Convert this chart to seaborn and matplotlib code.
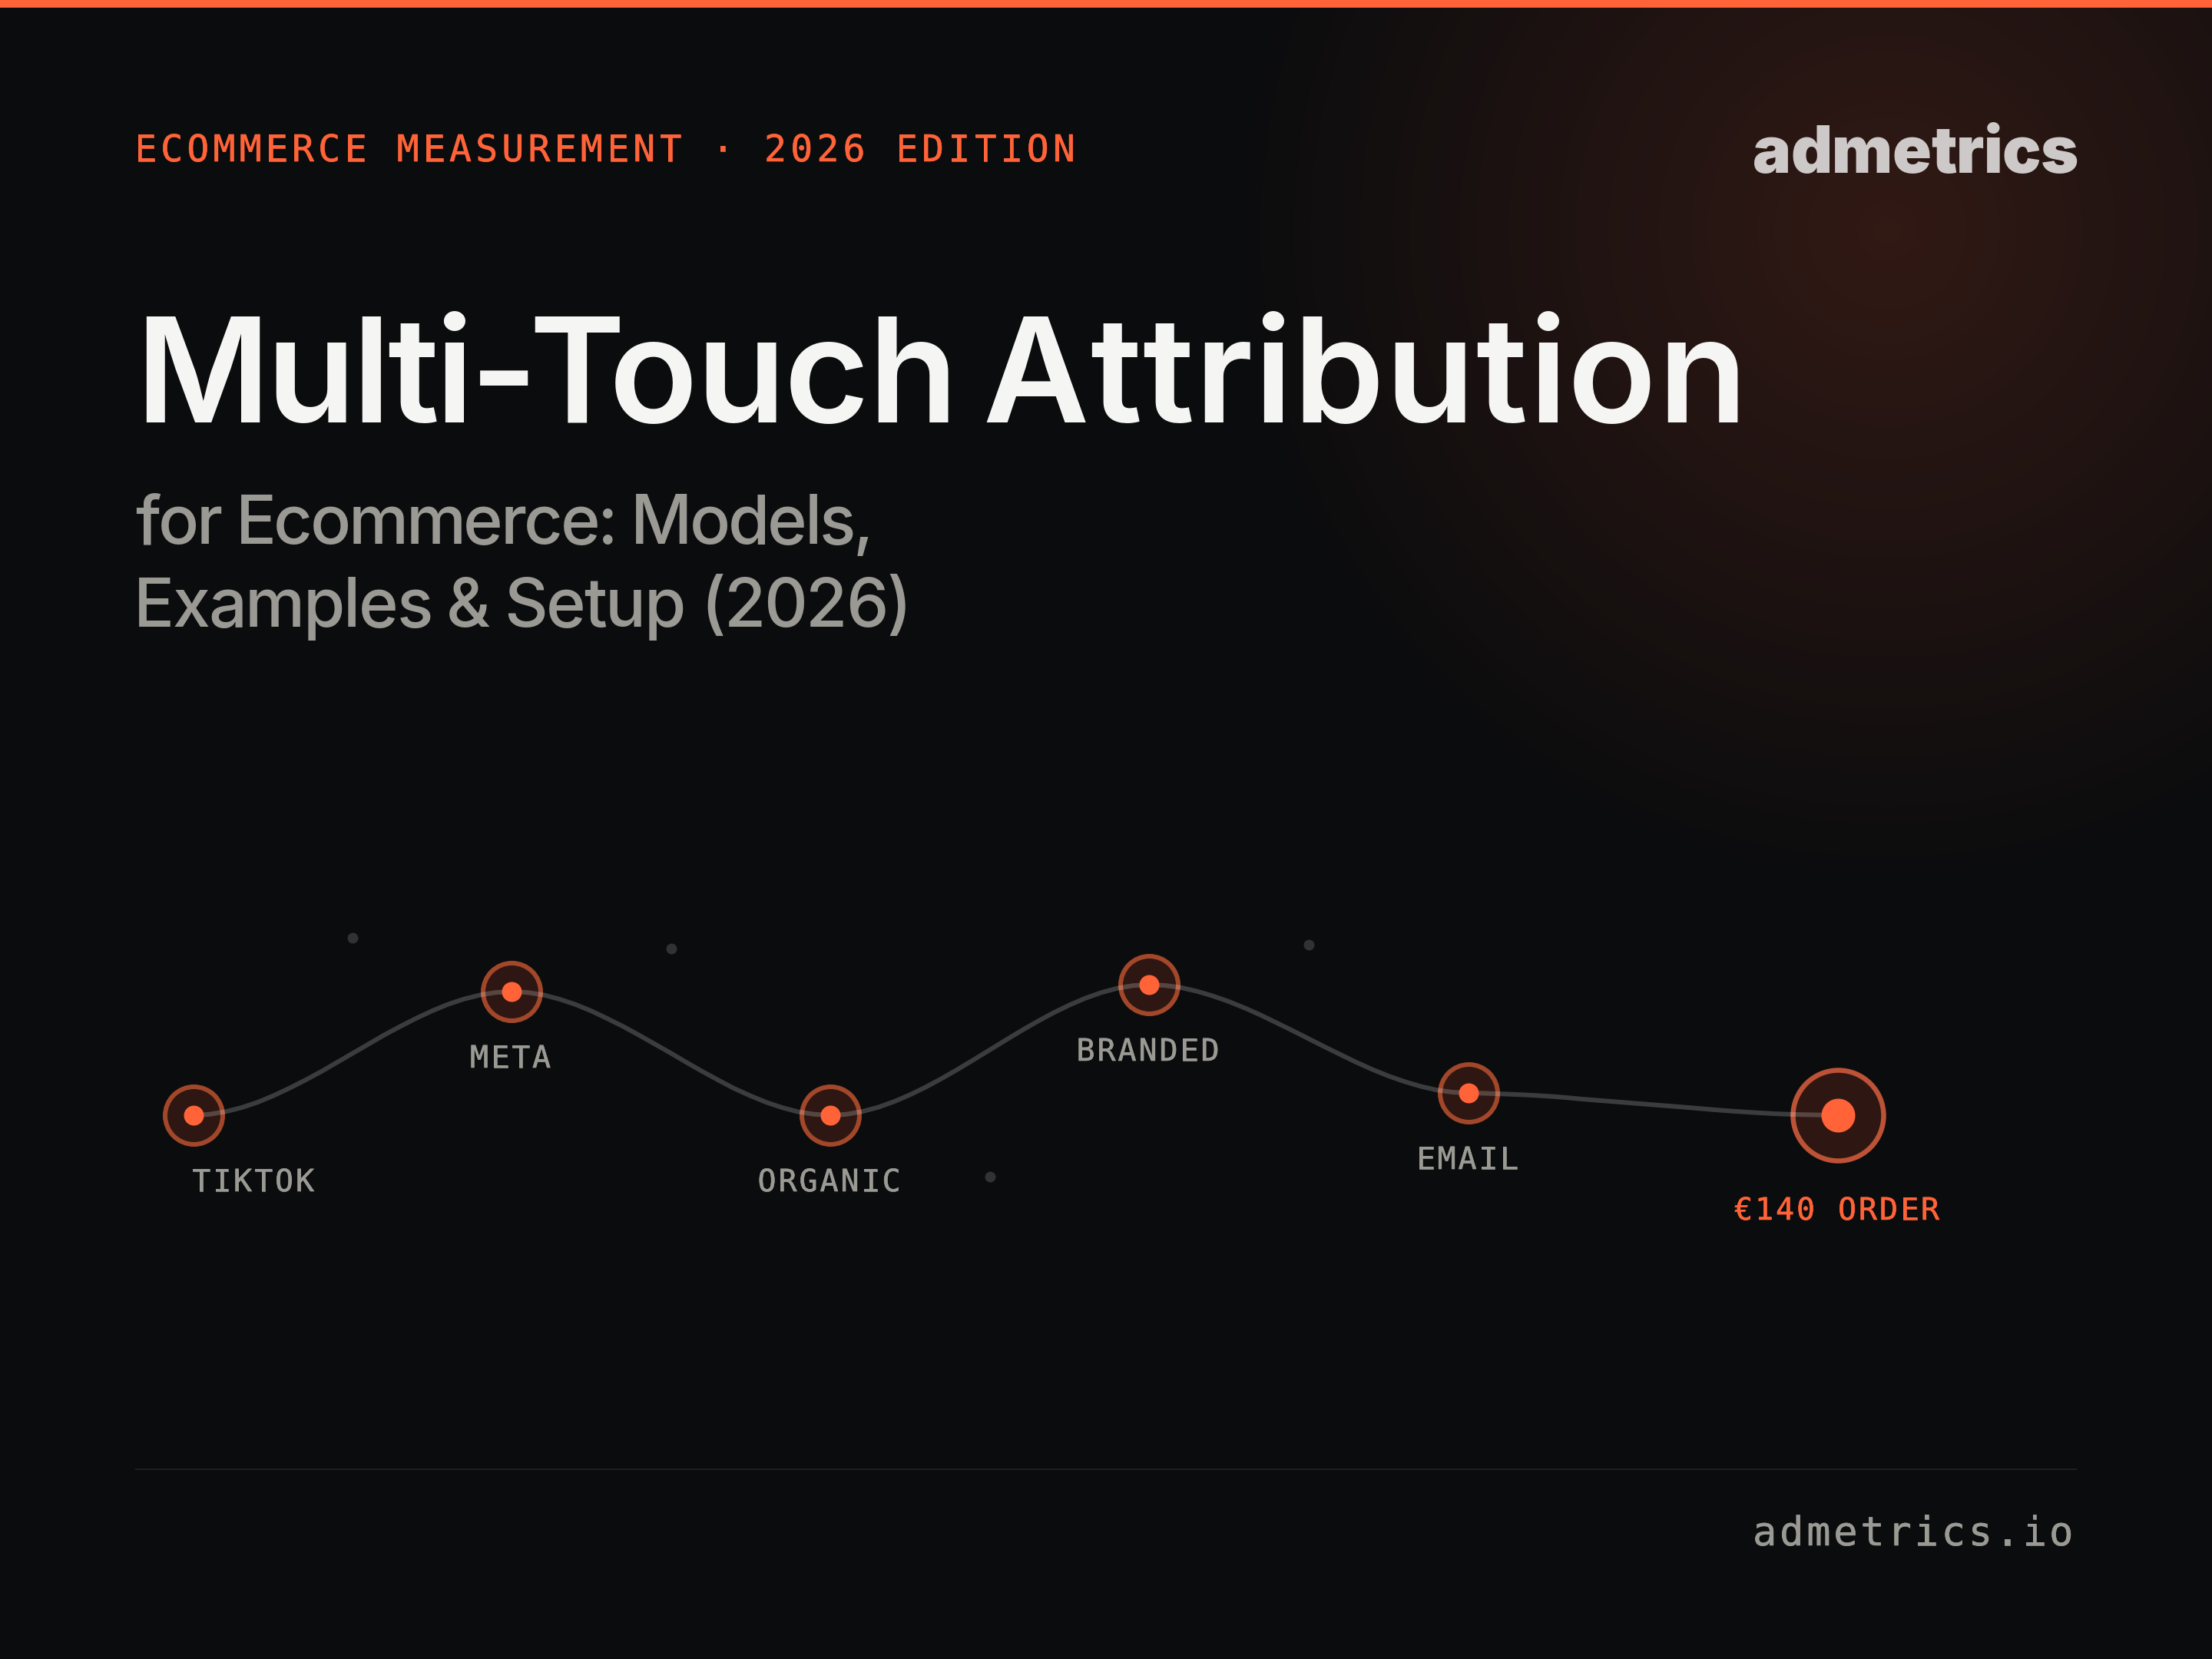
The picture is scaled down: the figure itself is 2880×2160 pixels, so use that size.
import matplotlib
matplotlib.use("Agg")
import matplotlib.pyplot as plt
import matplotlib.patheffects as pe
import matplotlib.text as mtext
from matplotlib import font_manager as fm
from matplotlib.ft2font import LoadFlags
from matplotlib.transforms import Bbox
import numpy as np
import seaborn as sns

# ---- data (canvas pixels) ----
node_labels = ["TIKTOK", "META", "ORGANIC", "BRANDED", "EMAIL"]
node_x = [252, 666, 1081, 1496, 1912]
node_y = [1452, 1291, 1452, 1282, 1423]
order_label = ["€140 ORDER"]
order_x = [2393]
order_y = [1452]
curve_x = [252, 272.7, 293, 314.1, 335, 355.5, 376, 396.9, 418, 438.3, 459, 479.7, 500, 521.1, 542, 562.5, 583, 603.9, 625, 645.3,
           666, 686.8, 708, 728.3, 749, 769.8, 790, 811.3, 832, 852.8, 874, 894.3, 915, 935.8, 956, 977.3, 998, 1018.8, 1039, 1060.3,
           1081, 1101.8, 1122.5, 1143.3, 1164, 1184.8, 1205.5, 1226.3, 1247, 1267.8, 1288.5, 1309.3, 1330, 1350.8, 1371.5, 1392.3, 1413, 1433.8, 1454.5, 1475.3,
           1496, 1516.8, 1538, 1558.4, 1579, 1600, 1621, 1641.6, 1662, 1683.2, 1704, 1724.8, 1746, 1766.4, 1787, 1808, 1829, 1849.6, 1870, 1891.2,
           1912, 1930, 1947, 1966, 1985, 2002, 2020, 2040, 2060, 2085, 2110, 2135, 2160, 2182, 2204, 2232, 2260, 2285, 2310, 2330, 2350, 2372, 2393]
curve_y = [1452, 1450.8, 1447.5, 1442.2, 1435.3, 1426.8, 1417.2, 1406.6, 1395.3, 1383.5, 1371.5, 1359.5, 1347.7, 1336.4, 1325.8, 1316.2, 1307.7, 1300.8, 1295.5, 1292.2,
           1291, 1292.2, 1295.5, 1300.8, 1307.7, 1316.2, 1325.8, 1336.4, 1347.7, 1359.5, 1371.5, 1383.5, 1395.3, 1406.6, 1417.2, 1426.8, 1435.3, 1442.2, 1447.5, 1450.8,
           1452, 1450.8, 1447.2, 1441.7, 1434.3, 1425.4, 1415.3, 1404.1, 1392.2, 1379.7, 1367, 1354.3, 1341.8, 1329.9, 1318.7, 1308.6, 1299.7, 1292.3, 1286.8, 1283.2,
           1282, 1283, 1285.9, 1290.6, 1296.7, 1304, 1312.5, 1321.7, 1331.6, 1342, 1352.5, 1363, 1373.4, 1383.3, 1392.5, 1401, 1408.3, 1414.4, 1419.1, 1422,
           1423, 1423.4, 1424, 1424.7, 1425.5, 1426.4, 1427.5, 1429.1, 1431, 1433, 1435, 1437, 1439, 1440.7, 1442.5, 1444.9, 1447, 1448.6, 1450, 1450.8, 1451.3, 1451.7, 1452]
dust_x = [459, 874, 1289, 1704]
dust_y = [1221, 1235, 1532, 1230]
title = "Multi-Touch Attribution"
subtitle = ["for Ecommerce: Models,", "Examples & Setup (2026)"]
eyebrow = "ECOMMERCE MEASUREMENT · 2026 EDITION"
logo = "admetrics"
footer = "admetrics.io"

BG = "#0b0c0e"
ORANGE = "#ff6337"
GREY = "#9a9993"
DPI = 200
PT = 72 / DPI  # one canvas pixel in points
KERN = {"To": -0.1, "-T": -0.04, "h ": -0.06, "xa": -0.01, "s ": -0.015, "& ": -0.02, " &": -0.01}


def area(diameter_px):
    return (diameter_px * PT) ** 2


class TrackedText(mtext.Text):
    """One whole string, drawn with CSS-like letter spacing."""

    def __init__(self, x, y, text, target=None, advance=None, anchors=None, bold_px=0, **kw):
        super().__init__(x, y, text, **kw)
        self._target = target
        self._advance = advance
        self._anchors = anchors
        self._bold_px = bold_px

    def _layout(self):
        s = self.get_text()
        prop = self.get_fontproperties()
        size = prop.get_size_in_points()
        if self._advance is not None:
            adv = [self._advance] * len(s)
        else:
            font = fm.get_font(fm.findfont(prop))
            font.set_size(size, DPI)
            em = size / PT
            adv = []
            for i, c in enumerate(s):
                a = font.load_char(ord(c), flags=LoadFlags.NO_HINTING).linearHoriAdvance / 65536
                adv.append(a + KERN.get(s[i:i + 2], 0) * em)
            if self._anchors is not None:
                keys = sorted(self._anchors)
                for a_i, b_i in zip(keys[:-1], keys[1:]):
                    tr = (self._anchors[b_i] - self._anchors[a_i] - sum(adv[a_i:b_i])) / (b_i - a_i)
                    for j in range(a_i, b_i):
                        adv[j] += tr
            elif self._target is not None:
                tr = (self._target - sum(adv)) / (len(s) - 1)
                adv = [a + tr for a in adv]
        total = sum(adv)
        x0, _ = self.get_position()
        ha = self.get_horizontalalignment()
        if ha == "center":
            x0 -= total / 2
        elif ha == "right":
            x0 -= total
        xs = x0 + np.concatenate([[0], np.cumsum(adv)[:-1]])
        return xs, total, x0

    def draw(self, renderer):
        if not self.get_visible():
            return
        xs, _, _ = self._layout()
        y = self.get_position()[1]
        for c, x in zip(self.get_text(), xs):
            if c == " ":
                continue
            t = mtext.Text(x, y, c, fontproperties=self.get_fontproperties(), color=self.get_color(),
                           ha="left", va="baseline", transform=self.get_transform())
            t.set_figure(self.get_figure())
            if self._bold_px:
                t.set_path_effects([pe.withStroke(linewidth=self._bold_px * PT, foreground=self.get_color())])
            t.draw(renderer)

    def get_window_extent(self, renderer=None, dpi=None):
        _, total, x0 = self._layout()
        y = self.get_position()[1]
        em = self.get_fontproperties().get_size_in_points() / PT
        tr = self.get_transform()
        return Bbox([tr.transform((x0, y + 0.2 * em)), tr.transform((x0 + total, y - 0.8 * em))])


def put(x, y, s, px, color, family="DejaVu Sans Mono", weight=400, ha="left", target=None, advance=None,
        anchors=None, bold_px=0):
    fp = fm.FontProperties(family=family, weight=weight, size=px * PT)
    ax.add_artist(TrackedText(x, y, s, target=target, advance=advance, anchors=anchors, bold_px=bold_px,
                              fontproperties=fp, color=color, ha=ha, va="baseline", transform=ax.transData))


sns.set_theme(style="white")
fig = plt.figure(figsize=(14.4, 10.8), dpi=DPI, facecolor=BG)
ax = fig.add_axes([0, 0, 1, 1], facecolor=BG)

# soft corner glow
gx, gy = np.meshgrid(np.arange(2880) + 0.5, np.arange(2160) + 0.5)
r = np.hypot(gx - 2457, gy - 300)
glow = np.zeros((2160, 2880, 4))
glow[..., :3] = matplotlib.colors.to_rgb(ORANGE)
glow[..., 3] = np.clip(1 - r / 880, 0, 1) * 0.16
ax.imshow(glow, extent=(0, 2880, 2160, 0), aspect="auto", interpolation="nearest", zorder=0)

# top bar and footer rule
ax.axhspan(0, 10, color=ORANGE, lw=0, zorder=1)
ax.plot([176, 2704], [1913, 1913], color="#1e1f21", lw=2 * PT, solid_capstyle="butt", zorder=1)

# dust
sns.scatterplot(x=dust_x, y=dust_y, s=area(14), color="#323234", linewidth=0, ax=ax, zorder=2)

# node halos
halo = dict(color="#2e1712", edgecolor="#a24729", linewidth=6 * PT, ax=ax, zorder=3)
sns.scatterplot(x=node_x, y=node_y, s=area(75), **halo)
sns.scatterplot(x=order_x, y=order_y, s=area(118), **{**halo, "edgecolor": "#bc5236", "linewidth": 6.5 * PT})

# journey line
sns.lineplot(x=curve_x, y=curve_y, sort=False, estimator=None, color="white", alpha=0.2,
             linewidth=6 * PT, ax=ax, zorder=4)

# node cores
sns.scatterplot(x=node_x, y=node_y, s=area(26), color=ORANGE, linewidth=0, ax=ax, zorder=5)
sns.scatterplot(x=order_x, y=order_y, s=area(44), color=ORANGE, linewidth=0, ax=ax, zorder=5)

ax.set_xlim(0, 2880)
ax.set_ylim(2160, 0)
ax.set_axis_off()

# text
put(175, 210, eyebrow, 48, ORANGE, advance=34.17, bold_px=0.6)
put(2282, 225, logo, 84, "#cdc9c8", family="Inter", weight=900, target=424)
put(176, 550, title, 190, "#f5f5f3", family="Inter", weight=600,
    anchors={0: 176, 6: 688, 12: 1279, 23: 2276})
put(176, 708, subtitle[0], 88, GREY, family="Inter", weight=500, target=961)
put(174, 816, subtitle[1], 88, GREY, family="Inter", weight=500, target=1013)

put(250, 1551, node_labels[0], 40, GREY, advance=27, bold_px=0.6)
put(666, 1390, node_labels[1], 40, GREY, ha="center", advance=27, bold_px=0.6)
put(1081, 1551, node_labels[2], 40, GREY, ha="center", advance=27, bold_px=0.6)
put(1496, 1381, node_labels[3], 40, GREY, ha="center", advance=27, bold_px=0.6)
put(1912, 1522, node_labels[4], 40, GREY, ha="center", advance=27, bold_px=0.6)
put(2393, 1588, order_label[0], 40, ORANGE, ha="center", advance=27, bold_px=0.6)
put(2282, 2012, footer, 52, GREY, advance=35.1, bold_px=0.6)

fig.savefig("out.png", dpi=DPI, facecolor=BG)
